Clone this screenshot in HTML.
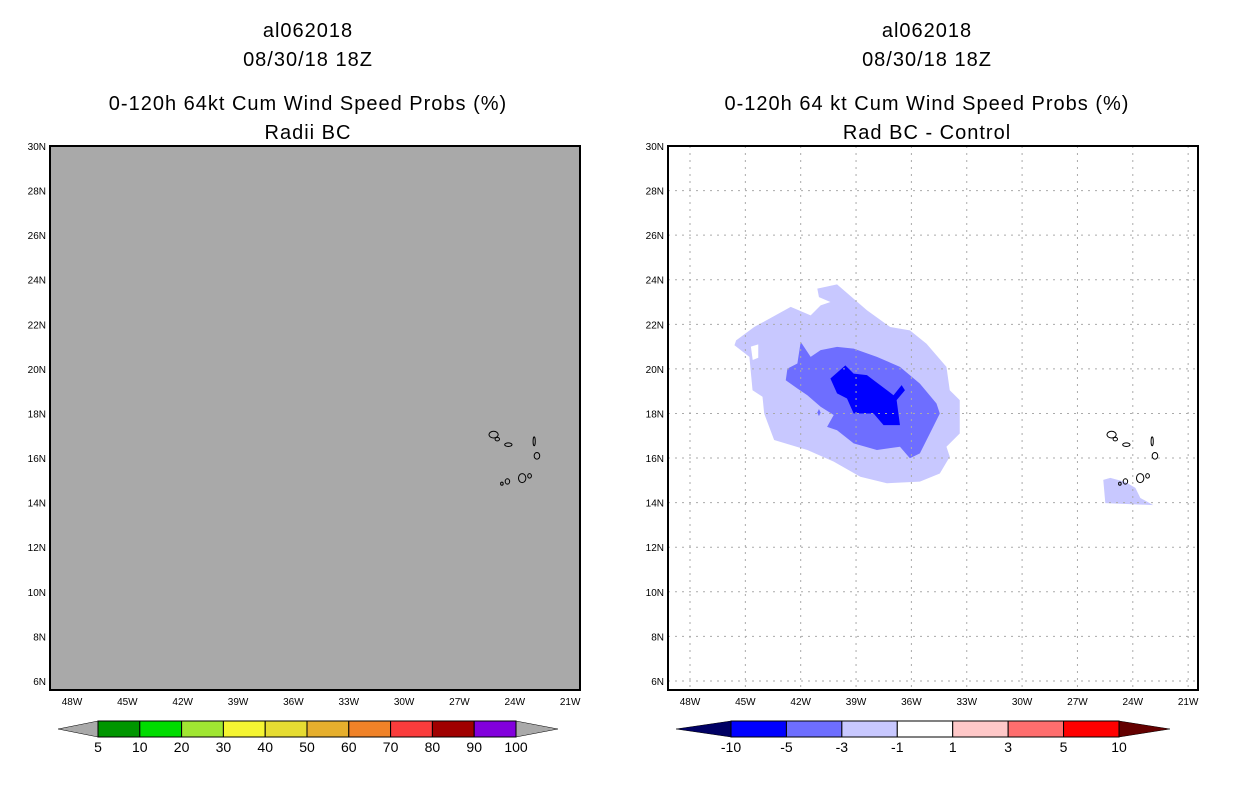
<!DOCTYPE html>
<html><head><meta charset="utf-8"><style>
body{margin:0;background:#fff;}
svg{display:block;font-family:"Liberation Sans",sans-serif;}
</style></head><body>
<svg id="chart" width="1236" height="800" viewBox="0 0 1236 800">
<g font-size="20" text-anchor="middle" fill="#000" letter-spacing="1">
<text x="308" y="37">al062018</text>
<text x="308" y="66">08/30/18 18Z</text>
<text x="308" y="110">0-120h 64kt Cum Wind Speed Probs (%)</text>
<text x="308" y="139">Radii BC</text>
<text x="927" y="37">al062018</text>
<text x="927" y="66">08/30/18 18Z</text>
<text x="927" y="110">0-120h 64 kt Cum Wind Speed Probs (%)</text>
<text x="927" y="139">Rad BC - Control</text>
</g>
<g id="left"></g>
<g id="right"></g>
<g id="cbars"></g>
</svg>
<script>
const lonTicks=[-48,-45,-42,-39,-36,-33,-30,-27,-24,-21];
const latTicks=[6,8,10,12,14,16,18,20,22,24,26,28,30];
const lightLon=[-41.10,-40.03,-38.41,-37.15,-36.08,-35.18,-34.10,-33.92,-33.38,-33.38,-34.10,-33.92,-34.46,-35.54,-37.33,-38.77,-40.21,-41.64,-43.44,-43.98,-44.07,-44.61,-44.78,-45.59,-45.50,-44.52,-42.54,-41.46,-40.92,-40.39,-41.01];
const lightLat=[23.60,23.79,22.63,21.88,21.73,21.13,20.09,19.04,18.60,17.10,16.51,16.06,15.31,14.94,14.87,15.16,15.84,16.36,16.81,18.00,18.75,19.04,20.54,21.06,21.28,21.88,22.78,22.40,22.85,23.00,23.22];
const holeLon=[-44.7,-44.3,-44.3,-44.6];
const holeLat=[21.0,21.1,20.5,20.4];
const medLon=[-42.00,-41.46,-40.92,-40.03,-39.13,-37.87,-36.62,-35.54,-34.64,-34.46,-34.82,-35.54,-36.08,-36.62,-37.87,-39.13,-40.03,-40.57,-40.21,-40.92,-41.64,-42.18,-42.81,-42.72,-42.18];
const medLat=[21.21,20.54,20.84,20.99,20.91,20.54,20.09,19.34,18.45,18.00,17.40,16.21,15.99,16.51,16.36,16.66,17.25,17.40,17.93,18.30,18.82,19.12,19.49,20.01,20.24];
const dotLon=[-41.1,-41.01,-40.92,-41.01];
const dotLat=[18.04,18.2,18.04,17.88];
const darkLon=[-40.39,-39.58,-39.13,-38.41,-36.97,-36.53,-36.35,-36.80,-36.62,-37.51,-38.05,-39.13,-39.49,-40.03];
const darkLat=[19.57,20.16,19.79,19.72,18.82,19.27,19.04,18.60,17.48,17.48,18.00,18.00,18.67,18.90];
const cvLon=[-25.6,-25.22,-24.41,-23.86,-23.59,-22.89,-25.49];
const cvLat=[15.02,15.11,14.93,14.66,14.21,13.89,13.98];
const islandLon=[-25.15,-24.95,-24.35,-22.95,-22.8,-23.2,-23.6,-24.4,-24.7];
const islandLat=[17.05,16.85,16.6,16.75,16.1,15.2,15.1,14.95,14.85];
const islandRx=[0.25,0.12,0.2,0.06,0.15,0.1,0.2,0.12,0.07];
const islandRy=[0.15,0.08,0.08,0.2,0.15,0.1,0.2,0.12,0.07];
const probLabels=["5","10","20","30","40","50","60","70","80","90","100"];
const probColors=["#009600","#00dc00","#a0e632","#f5f532","#e6dc32","#e6af2d","#f08228","#fa3c3c","#a00000","#8200dc"];
const diffLabels=["-10","-5","-3","-1","1","3","5","10"];
const diffColors=["#0000ff","#6e6eff","#c8c8ff","#ffffff","#ffc8c8","#ff6e6e","#ff0000"];
const NS="http://www.w3.org/2000/svg";
function mk(p,t,a){const e=document.createElementNS(NS,t);for(const k in a)e.setAttribute(k,a[k]);p.appendChild(e);return e;}
function panel(g,x0,shade){
  const top=146,bot=690,x1=x0+530;
  const X=lon=>x0+22+(lon+48)*18.45;
  const Y=lat=>146+(30-lat)*22.29;
  const bg=mk(g,'rect',{x:x0,y:top,width:530,height:bot-top,fill:shade?'#fff':'#a9a9a9'});
  
  
  const poly=(lo,la,fill,name)=>{const p=mk(g,'polygon',{points:lo.map((v,i)=>X(v)+','+Y(la[i])).join(' '),fill:fill});
    
    };
  if(shade){
    poly(lightLon,lightLat,'#c8c8ff','contour-minus1-to-minus3');
    poly(holeLon,holeLat,'#ffffff','contour-hole');
    poly(cvLon,cvLat,'#c8c8ff','contour-cape-verde');
    poly(medLon,medLat,'#6e6eff','contour-minus3-to-minus5');
    poly(dotLon,dotLat,'#6e6eff','contour-small-spot');
    poly(darkLon,darkLat,'#0000ff','contour-minus5-to-minus10');
    lonTicks.forEach(l=>{const ln=mk(g,'line',{x1:X(l),x2:X(l),y1:top,y2:bot,stroke:'#aaa','stroke-dasharray':'2,5'});
      
      });
    latTicks.forEach(l=>{const ln=mk(g,'line',{x1:x0,x2:x1,y1:Y(l),y2:Y(l),stroke:'#aaa','stroke-dasharray':'2,5'});
      
      });
  }
  islandLon.forEach((l,i)=>{const e=mk(g,'ellipse',{cx:X(l),cy:Y(islandLat[i]),rx:islandRx[i]*18.45,ry:islandRy[i]*22.29,fill:'none',stroke:'#000','stroke-width':1});
    
    });
  const fr=mk(g,'rect',{x:x0,y:top,width:530,height:bot-top,fill:'none',stroke:'#000','stroke-width':2});
  
  
  lonTicks.forEach(l=>{const t=mk(g,'text',{x:X(l),y:705,'font-size':10,'text-anchor':'middle'});t.textContent=Math.abs(l)+'W';
    
    });
  latTicks.forEach(l=>{const t=mk(g,'text',{x:x0-4,y:Y(l)+4,'font-size':10,'text-anchor':'end'});t.textContent=l+'N';
    
    });
}
panel(document.getElementById('left'),50,false);
panel(document.getElementById('right'),668,true);
function cbar(g,xs,xe,tl,tr,cols,labels,lc,rc){
  const y0=721,y1=737,w=(xe-xs)/cols.length;
  const a=mk(g,'polygon',{points:`${tl},729 ${xs},${y0} ${xs},${y1}`,fill:lc,stroke:'#000','stroke-width':0.5});
  
  
  const b=mk(g,'polygon',{points:`${tr},729 ${xe},${y0} ${xe},${y1}`,fill:rc,stroke:'#000','stroke-width':0.5});
  
  
  cols.forEach((c,i)=>{const r=mk(g,'rect',{x:xs+i*w,y:y0,width:w,height:y1-y0,fill:c,stroke:'#000','stroke-width':1});
    
    });
  labels.forEach((s,i)=>{const t=mk(g,'text',{x:xs+i*w,y:752,'font-size':14,'text-anchor':'middle'});t.textContent=s;
    
    });
}
const cg=document.getElementById('cbars');
cbar(cg,98,516,58,558,probColors,probLabels,'#a9a9a9','#a9a9a9');
cbar(cg,731,1119,676,1170,diffColors,diffLabels,'#000064','#640000');
</script>
</body></html>
